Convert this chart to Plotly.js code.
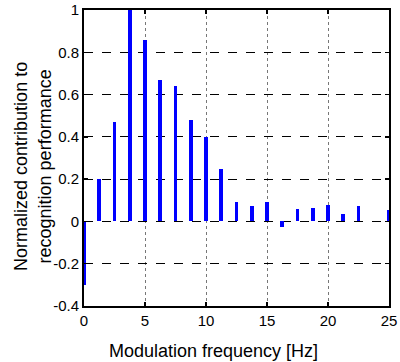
<!DOCTYPE html>
<html>
<head>
<meta charset="utf-8">
<script src="https://cdn.plot.ly/plotly-3.0.1.min.js"></script>
<style>html,body{margin:0;padding:0;background:#fff;}#chart{width:400px;height:362px;}</style>
</head>
<body>
<div id="chart"></div>
<script>
const frequencies = [0, 1.25, 2.5, 3.75, 5, 6.25, 7.5, 8.75, 10, 11.25, 12.5, 13.75, 15, 16.25, 17.5, 18.75, 20, 21.25, 22.5, 23.75, 25];
const contributions = [-0.30, 0.20, 0.47, 1.00, 0.86, 0.67, 0.64, 0.48, 0.40, 0.25, 0.09, 0.075, 0.09, -0.025, 0.06, 0.065, 0.08, 0.035, 0.075, 0.0, 0.053];
const xTicks = [0, 5, 10, 15, 20, 25];
const yTicks = [-0.4, -0.2, 0, 0.2, 0.4, 0.6, 0.8, 1];
const yTickText = ['-0.4', '-0.2', '0', '0.2', '0.4', '0.6', '0.8', '1'];
const xTitle = 'Modulation frequency [Hz]';
const yTitle = 'Normalized contribution to<br>recognition performance';

const trace = {
  type: 'bar',
  x: frequencies,
  y: contributions,
  width: 0.3,
  marker: {color: '#0000ff', line: {width: 0}},
  hoverinfo: 'x+y'
};

const fam = 'Liberation Sans, Arial, sans-serif';

const layout = {
  width: 400, height: 362,
  margin: {l: 84, r: 11, t: 10, b: 56},
  paper_bgcolor: '#fff', plot_bgcolor: '#fff',
  font: {family: fam, size: 15, color: '#000'},
  showlegend: false,
  bargap: 0,
  xaxis: {
    range: [0, 25],
    tickvals: xTicks,
    ticktext: xTicks.map(String),
    ticks: 'inside', ticklen: 4, tickwidth: 1.5, tickcolor: '#000',
    showline: true, linecolor: '#000', linewidth: 2, mirror: 'ticks',
    showgrid: true, gridcolor: '#777', griddash: 'dot', gridwidth: 1,
    zeroline: false,
    tickfont: {family: fam, size: 15, color: '#000'}
  },
  yaxis: {
    range: [-0.4, 1],
    tickvals: yTicks,
    ticktext: yTickText,
    ticks: 'inside', ticklen: 4, tickwidth: 1.5, tickcolor: '#000',
    showline: true, linecolor: '#000', linewidth: 2, mirror: 'ticks',
    showgrid: true, gridcolor: '#000', griddash: 'dash', gridwidth: 1,
    zeroline: false,
    tickfont: {family: fam, size: 15, color: '#000'}
  },
  annotations: [
    {text: xTitle, xref: 'paper', yref: 'paper', x: 0.423, y: -0.152,
     xanchor: 'center', yanchor: 'middle', showarrow: false,
     font: {family: fam, size: 18, color: '#000'}},
    {text: yTitle, xref: 'paper', yref: 'paper', x: -0.167, y: 0.47,
     xanchor: 'center', yanchor: 'middle', showarrow: false, textangle: -90,
     font: {family: fam, size: 18, color: '#000'}}
  ]
};

Plotly.newPlot('chart', [trace], layout, {displayModeBar: false, staticPlot: true});
</script>
</body>
</html>
